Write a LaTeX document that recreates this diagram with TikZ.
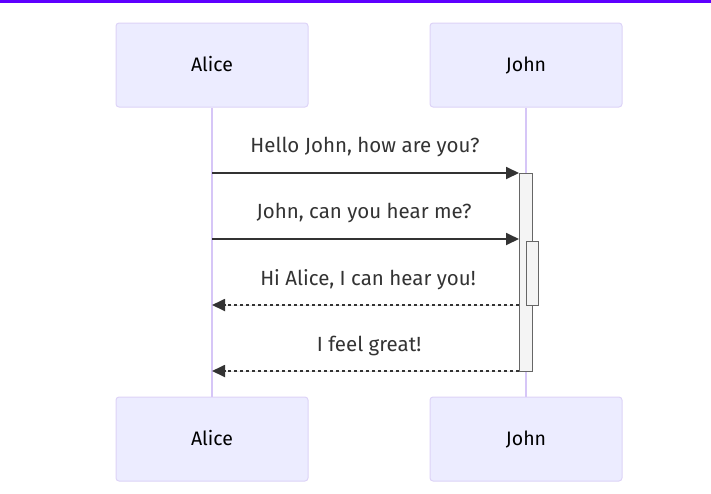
\documentclass[tikz,border=0pt]{standalone}
\usepackage{fontspec}
\setmainfont{Fira Sans}
\usetikzlibrary{arrows.meta}

\definecolor{topbar}{RGB}{94,0,255}
\definecolor{actorfill}{HTML}{ECECFF}
\definecolor{actorline}{RGB}{221,211,247}
\definecolor{lifeline}{RGB}{214,198,247}
\definecolor{msgline}{HTML}{333333}
\definecolor{actfill}{HTML}{F4F4F4}
\definecolor{actline}{HTML}{666666}

\begin{document}
\begin{tikzpicture}[x=1pt, y=-1pt, >={Triangle[length=13pt, width=12pt]},
    actor/.style={draw=actorline, fill=actorfill, line width=1pt, rounded corners=3pt,
        minimum width=192pt, minimum height=84pt, text height=13.5pt, text depth=0pt,
        font=\fontsize{19.5}{23}\selectfont},
    msgtext/.style={anchor=base, text=msgline, font=\fontsize{20.5}{24}\selectfont},
    call/.style={->, draw=msgline, fill=msgline, line width=1.8pt},
    reply/.style={call, dash pattern=on 3pt off 3pt},
    life/.style={draw=lifeline, line width=1.5pt},
    actbox/.style={draw=actline, fill=actfill, line width=1pt}]

    \useasboundingbox (0,0) rectangle (711,493);
    \fill[topbar] (0,0) rectangle (711,3);

    % ── Actors (top and bottom) ──────────────────────────────────────────────
    \node[actor] (aliceTop) at (212,65)  {Alice};
    \node[actor] (johnTop)  at (526,65)  {John};
    \node[actor] (aliceBot) at (212,439) {Alice};
    \node[actor] (johnBot)  at (526,439) {John};

    % ── Lifelines ────────────────────────────────────────────────────────────
    \draw[life] (aliceTop) -- (aliceBot);
    \draw[life] (johnTop)  -- (johnBot);

    % ── Activations on John ──────────────────────────────────────────────────
    \draw[actbox] (519,173) rectangle (532,371);
    \draw[actbox] (526,241) rectangle (538,305);

    % ── Message end points ───────────────────────────────────────────────────
    \coordinate (aOne)   at (212,173);
    \coordinate (jOne)   at (519,173);
    \coordinate (aTwo)   at (212,239);
    \coordinate (jTwo)   at (519,239);
    \coordinate (aThree) at (212,305);
    \coordinate (jThree) at (519,305);
    \coordinate (aFour)  at (212,371);
    \coordinate (jFour)  at (519,371);

    % ── Messages ─────────────────────────────────────────────────────────────
    \node[msgtext] (tOne)   at (365,152) {Hello John, how are you?};
    \draw[call] (aOne) -- (jOne);

    \node[msgtext] (tTwo)   at (364,218) {John, can you hear me?};
    \draw[call] (aTwo) -- (jTwo);

    \node[msgtext] (tThree) at (368,285) {Hi Alice, I can hear you!};
    \draw[reply] (jThree) -- (aThree);

    \node[msgtext] (tFour)  at (369,351) {I feel great!};
    \draw[reply] (jFour) -- (aFour);

\end{tikzpicture}
\end{document}
